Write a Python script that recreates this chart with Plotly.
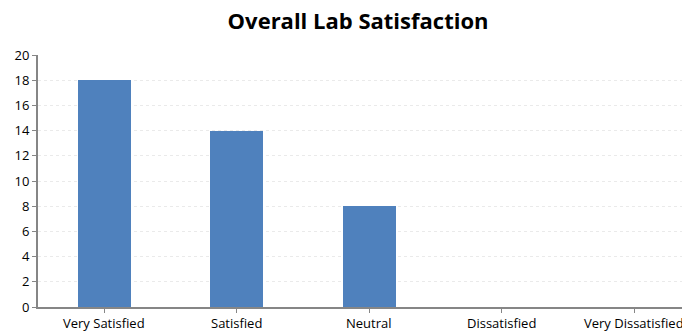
import plotly.graph_objects as go

categories = ["Very Satisfied", "Satisfied", "Neutral", "Dissatisfied", "Very Dissatisfied"]
counts = [18, 14, 8, 0, 0]
y_ticks = [0, 2, 4, 6, 8, 10, 12, 14, 16, 18, 20]

font_family = "'Open Sans', 'Noto Sans', sans-serif"
positions = list(range(len(categories)))

fig = go.Figure(
    go.Bar(
        x=positions,
        y=counts,
        width=0.4,
        marker=dict(color="#4F81BD", line=dict(width=0)),
        showlegend=False,
    )
)

fig.update_layout(
    width=682,
    height=333,
    margin=dict(l=38, r=0, t=55, b=26),
    paper_bgcolor="white",
    plot_bgcolor="white",
    font=dict(family=font_family, size=13, color="#000000"),
    title=dict(
        text="<b>Overall Lab Satisfaction</b>",
        x=0.525,
        xanchor="center",
        y=0.935,
        yanchor="middle",
        font=dict(family=font_family, size=22, color="#000000"),
    ),
    bargap=0,
)

# Category labels drawn as annotations so the last one can run past the right edge
for pos, label in zip(positions, categories):
    fig.add_annotation(
        x=pos,
        xref="x",
        y=0,
        yref="paper",
        yanchor="top",
        yshift=-5,
        text=label,
        showarrow=False,
        font=dict(family=font_family, size=13, color="#000000"),
    )

fig.update_xaxes(
    range=[-0.5, -0.5 + (682 - 38) / 132.5],
    tickmode="array",
    tickvals=positions,
    ticktext=[""] * len(categories),
    tickson="boundaries",
    ticks="outside",
    ticklen=4,
    tickcolor="#868686",
    showline=True,
    linecolor="#868686",
    linewidth=2,
    showgrid=False,
    zeroline=False,
    automargin=False,
)

fig.update_yaxes(
    range=[0, 20],
    tickmode="array",
    tickvals=y_ticks,
    ticks="outside",
    ticklen=4,
    tickcolor="#868686",
    showline=True,
    linecolor="#868686",
    linewidth=2,
    showgrid=True,
    gridcolor="#EAEAEA",
    griddash="dot",
    gridwidth=1,
    zeroline=False,
    automargin=False,
    tickfont=dict(size=13),
)

fig.write_html("out.html")
